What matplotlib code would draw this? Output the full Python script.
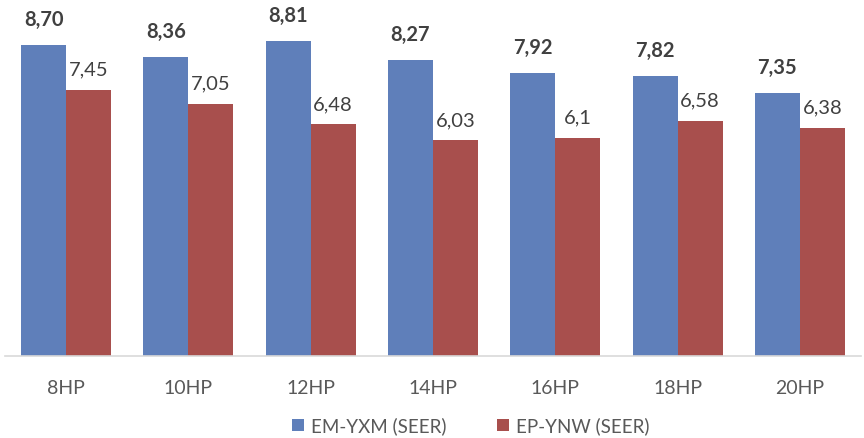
import matplotlib
matplotlib.use("Agg")
import matplotlib.pyplot as plt
import numpy as np

categories = ["8HP", "10HP", "12HP", "14HP", "16HP", "18HP", "20HP"]
em_yxm = [8.70, 8.36, 8.81, 8.27, 7.92, 7.82, 7.35]
ep_ynw = [7.45, 7.05, 6.48, 6.03, 6.10, 6.58, 6.38]
em_labels = ["8,70", "8,36", "8,81", "8,27", "7,92", "7,82", "7,35"]
ep_labels = ["7,45", "7,05", "6,48", "6,03", "6,1", "6,58", "6,38"]
series_names = ["EM-YXM (SEER)", "EP-YNW (SEER)"]

plt.rcParams['font.family'] = ['Lato', 'DejaVu Sans']

W, H = 864, 438
fig = plt.figure(figsize=(W/100, H/100), dpi=100)
left, right = 5, 861
base_y, top_y = 356, 6
ax = fig.add_axes([left/W, (H-base_y)/H, (right-left)/W, (base_y-top_y)/H])

blue = "#5F7FBA"
red = "#A84F4D"
txt = "#404040"

x = np.arange(len(categories))
bw = 0.368
b1 = ax.bar(x - bw/2, em_yxm, bw, color=blue, label=series_names[0])
b2 = ax.bar(x + bw/2, ep_ynw, bw, color=red, label=series_names[1])

for rect, lab in zip(b1, em_labels):
    ax.annotate(lab, (rect.get_x() + rect.get_width()/2, rect.get_height()),
                xytext=(0, 11), textcoords="offset points", ha="center", va="bottom",
                fontsize=14.5, fontweight="bold", color=txt)
for rect, lab in zip(b2, ep_labels):
    ax.annotate(lab, (rect.get_x() + rect.get_width()/2, rect.get_height()),
                xytext=(0, 8), textcoords="offset points", ha="center", va="bottom",
                fontsize=14.5, color=txt)

ax.set_xlim(-0.5, len(categories) - 0.5)
ax.set_ylim(0, (base_y - top_y) / 35.75)
ax.set_xticks(x)
ax.set_xticklabels(categories, fontsize=14, color="#595959")
ax.tick_params(axis='x', length=0, pad=17)
ax.set_yticks([])
for s in ["top", "right", "left"]:
    ax.spines[s].set_visible(False)
ax.spines["bottom"].set_color("#D9D9D9")
ax.spines["bottom"].set_linewidth(1.2)

fig.legend(handles=[b1, b2], labels=series_names, loc="center",
           bbox_to_anchor=(471/W, 1 - 426/H), ncol=2, frameon=False,
           fontsize=13.5, handlelength=0.6, handleheight=0.6, columnspacing=2.7,
           handletextpad=0.4, labelcolor="#595959")

fig.savefig("out.png", dpi=100)
